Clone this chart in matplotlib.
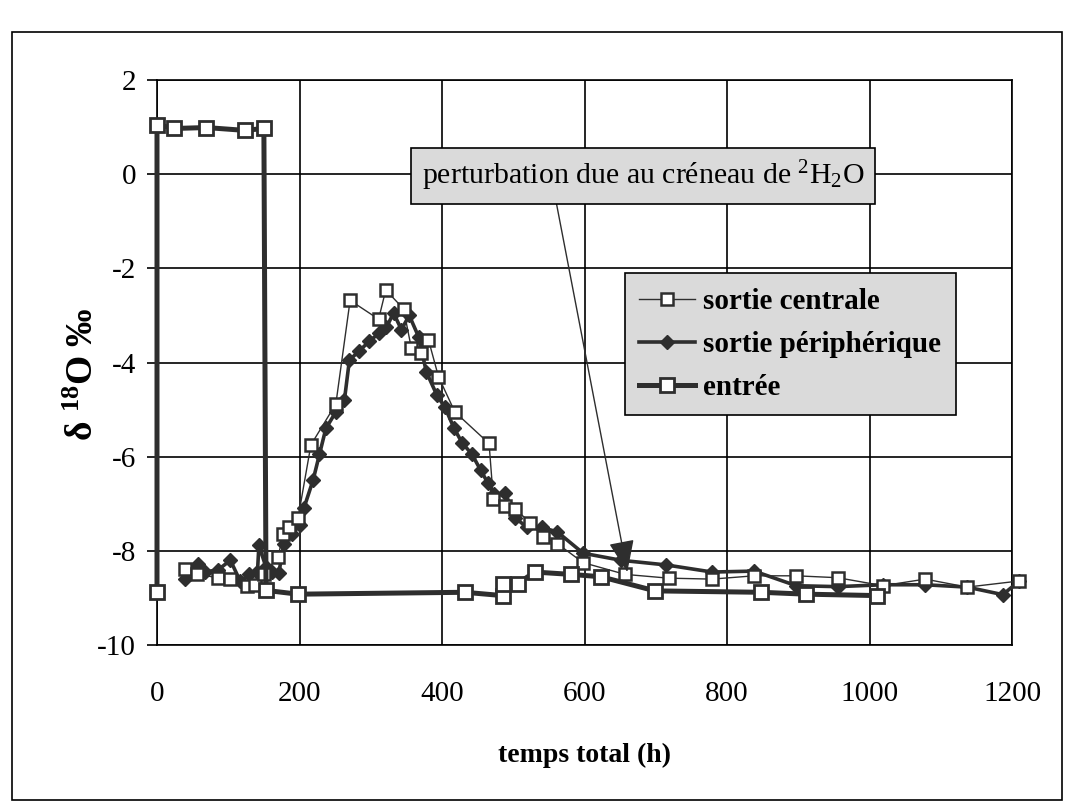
import matplotlib
matplotlib.use("Agg")
import matplotlib.pyplot as plt
from matplotlib.patches import Rectangle

plt.rcParams["font.family"] = ["Liberation Serif", "DejaVu Serif"]
plt.rcParams["mathtext.fontset"] = "custom"
plt.rcParams["mathtext.rm"] = "Liberation Serif"
plt.rcParams["mathtext.it"] = "Liberation Serif:italic"
plt.rcParams["mathtext.bf"] = "Liberation Serif:bold"
plt.rcParams["axes.unicode_minus"] = False

# values
entree_x = [0, 0, 24, 69, 123, 150, 153, 198, 432, 485, 485, 506, 530, 581, 623, 699, 848, 911, 1010]
entree_y = [-8.88, 1.05, 0.97, 0.99, 0.93, 0.97, -8.84, -8.92, -8.88, -8.95, -8.7, -8.7,
            -8.45, -8.5, -8.55, -8.85, -8.88, -8.92, -8.95]

centrale_x = [40, 56, 86, 103, 127, 138, 150, 170, 177, 185, 198, 216, 251, 271, 311, 321,
              346, 357, 370, 381, 395, 418, 466, 472, 489, 503, 524, 541, 562, 598, 657,
              718, 779, 838, 897, 955, 1019, 1078, 1137, 1210]
centrale_y = [-8.38, -8.5, -8.57, -8.6, -8.75, -8.72, -8.5, -8.12, -7.65, -7.5, -7.3, -5.75,
              -4.88, -2.68, -3.08, -2.46, -2.86, -3.7, -3.8, -3.52, -4.3, -5.05, -5.72, -6.9,
              -7.05, -7.12, -7.4, -7.7, -7.85, -8.25, -8.5, -8.58, -8.6, -8.53, -8.53, -8.57,
              -8.74, -8.6, -8.77, -8.64]

periph_x = [40, 50, 57, 68, 86, 103, 117, 129, 141, 143, 153, 162, 171, 178, 190, 200, 206,
            219, 228, 237, 251, 263, 270, 284, 298, 312, 322, 332, 343, 354, 367, 378, 393,
            404, 417, 428, 442, 454, 464, 473, 489, 503, 519, 540, 562, 598, 651, 715, 779,
            838, 897, 955, 1019, 1078, 1137, 1187, 1210]
periph_y = [-8.6, -8.4, -8.28, -8.45, -8.4, -8.2, -8.65, -8.5, -8.45, -7.88, -8.35, -8.45,
            -8.47, -7.85, -7.65, -7.45, -7.1, -6.5, -5.95, -5.4, -5.05, -4.8, -3.95, -3.75,
            -3.55, -3.37, -3.25, -2.95, -3.3, -3.0, -3.45, -4.2, -4.7, -4.95, -5.4, -5.7,
            -5.95, -6.28, -6.55, -6.8, -6.78, -7.3, -7.5, -7.5, -7.6, -8.05, -8.2, -8.3,
            -8.45, -8.43, -8.74, -8.76, -8.72, -8.72, -8.77, -8.93, -8.64]

x_ticks = [0, 200, 400, 600, 800, 1000, 1200]
y_ticks = [-10, -8, -6, -4, -2, 0, 2]

ink = "#2e2e2e"

fig = plt.figure(figsize=(10.79, 8.08), dpi=100)
ax = fig.add_axes([0.1455, 0.2017, 0.7925, 0.6993])

ax.plot(centrale_x, centrale_y, "-s", color=ink, lw=1.0, ms=8.5, mfc="white",
        mec=ink, mew=1.8, label="sortie centrale", clip_on=False, zorder=4)
ax.plot(periph_x, periph_y, "-D", color=ink, lw=2.6, ms=7.5, mfc=ink, mec=ink,
        label="sortie périphérique", clip_on=False, zorder=3)
ax.plot(entree_x, entree_y, "-s", color=ink, lw=3.6, ms=9.5, mfc="white",
        mec=ink, mew=2.0, label="entrée", clip_on=False, zorder=5)

ax.set_xlim(0, 1200)
ax.set_ylim(-10, 2)
ax.set_xticks(x_ticks)
ax.set_yticks(y_ticks)
ax.grid(True, color="black", lw=1.2)
ax.set_axisbelow(True)
for s in ax.spines.values():
    s.set_linewidth(1.2)
ax.tick_params(axis="x", length=0, pad=26, labelsize=21)
ax.tick_params(axis="y", length=7, width=1.2, pad=8, labelsize=21)

ax.set_xlabel("temps total (h)", fontsize=20, fontweight="bold", labelpad=26)
ax.set_ylabel("δ $^{\\mathbf{18}}$O ‰", fontsize=27, fontweight="bold")
ax.yaxis.set_label_coords(-0.066, 0.48)

leg = ax.legend(loc="upper left", bbox_to_anchor=(0.547, 0.658), borderaxespad=0,
                prop={"size": 21, "weight": "bold"}, fancybox=False, framealpha=1,
                handlelength=1.9, handletextpad=0.3, labelspacing=0.55,
                borderpad=0.5)
leg.get_frame().set_facecolor("#dadada")
leg.get_frame().set_edgecolor("black")
leg.get_frame().set_linewidth(1.2)

ax.annotate("perturbation due au créneau de $^{2}$H$_{2}$O",
            xy=(660, -8.45), xytext=(682, -0.04), textcoords="data",
            ha="center", va="center", fontsize=21.5, zorder=6,
            bbox=dict(boxstyle="square,pad=0.35", fc="#dadada", ec="black", lw=1.2),
            arrowprops=dict(arrowstyle="-|>,head_length=2.0,head_width=0.8",
                            color=ink, lw=1.0, relpos=(0.3, 0.0), shrinkA=0, shrinkB=0,
                            mutation_scale=10))

fig.patches.append(Rectangle((0.011, 0.01), 0.973, 0.95, transform=fig.transFigure,
                             fill=False, ec="black", lw=1.2))

fig.savefig("out.png", dpi=100)
